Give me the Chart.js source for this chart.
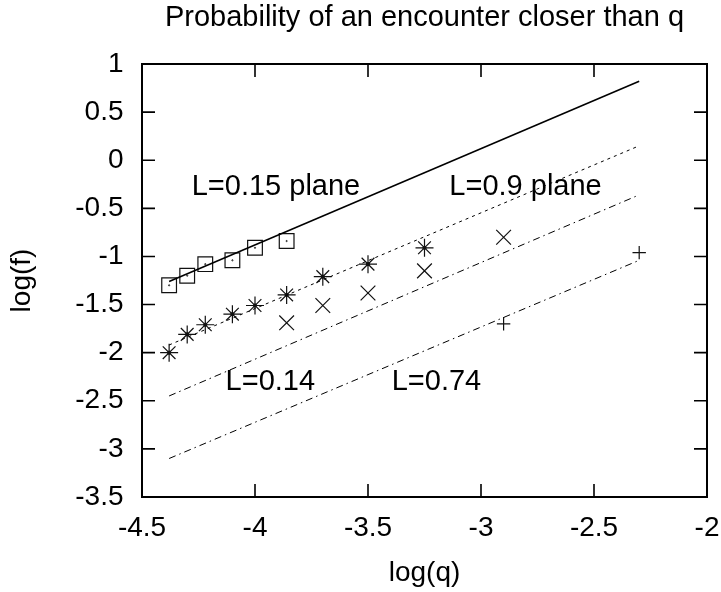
<!DOCTYPE html>
<html>
<head>
<meta charset="utf-8">
<script src="https://cdn.jsdelivr.net/npm/chart.js@4.4.0/dist/chart.umd.min.js"></script>
<style>
  body { margin: 0; background: #fff; }
  canvas { display: block; }
</style>
</head>
<body>
<canvas id="chart" width="721" height="592"></canvas>
<script>
// data (log10 values)
const squareX = [-4.38, -4.30, -4.22, -4.10, -4.00, -3.86];
const squareY = [-1.30, -1.20, -1.08, -1.04, -0.91, -0.84];

const starX = [-4.38, -4.30, -4.22, -4.10, -4.00, -3.86, -3.70, -3.50, -3.25];
const starY = [-2.00, -1.81, -1.71, -1.60, -1.51, -1.40, -1.21, -1.08, -0.91];

const crossX = [-3.86, -3.70, -3.50, -3.25, -2.90];
const crossY = [-1.69, -1.51, -1.38, -1.15, -0.80];

const plusX = [-2.90, -2.30];
const plusY = [-1.70, -0.96];

// fitted lines, end points
const fitX = [-4.38, -2.30];
const fit015Y = [-1.26, 0.82];
const fit09Y = [-1.92, 0.15];
const fit014Y = [-2.45, -0.36];
const fit074Y = [-3.10, -1.04];

const labelText = ['L=0.15 plane', 'L=0.9 plane', 'L=0.14', 'L=0.74'];
const labelX = [-4.28, -3.14, -4.13, -3.395];
const labelY = [-0.28, -0.28, -2.30, -2.30];

const xTicks = [-4.5, -4, -3.5, -3, -2.5, -2];
const yTicks = [-3.5, -3, -2.5, -2, -1.5, -1, -0.5, 0, 0.5, 1];

const titleText = 'Probability of an encounter closer than q';
const FONT = "'Liberation Sans', Arial, Helvetica, sans-serif";

function pts(xs, ys) {
    return xs.map((x, i) => ({x: x, y: ys[i]}));
}

function lineSet(ys, dash, width) {
    return {
        data: pts(fitX, ys),
        showLine: true,
        borderColor: '#000',
        borderWidth: width,
        borderDash: dash,
        pointRadius: 0,
        fill: false
    };
}

function pointSet(xs, ys, style, r, width) {
    return {
        data: pts(xs, ys),
        showLine: false,
        pointStyle: style,
        pointRadius: r,
        pointBorderColor: '#111',
        pointBackgroundColor: 'rgba(0,0,0,0)',
        pointBorderWidth: width
    };
}

const frame = {
    id: 'frame',
    afterDraw(chart) {
        const ctx = chart.ctx;
        const a = chart.chartArea;
        const xs = chart.scales.x, ys = chart.scales.y;
        ctx.save();
        ctx.strokeStyle = '#000';
        ctx.lineWidth = 1.6;
        ctx.beginPath();
        xTicks.forEach(v => {
            const px = xs.getPixelForValue(v);
            ctx.moveTo(px, a.bottom); ctx.lineTo(px, a.bottom - 13);
            ctx.moveTo(px, a.top); ctx.lineTo(px, a.top + 13);
        });
        yTicks.forEach(v => {
            const py = ys.getPixelForValue(v);
            ctx.moveTo(a.left, py); ctx.lineTo(a.left + 13, py);
            ctx.moveTo(a.right, py); ctx.lineTo(a.right - 13, py);
        });
        ctx.stroke();
        ctx.lineWidth = 2;
        ctx.strokeRect(a.left, a.top, a.right - a.left, a.bottom - a.top);

        ctx.fillStyle = '#000';
        ctx.textBaseline = 'middle';
        ctx.textAlign = 'center';
        ctx.font = '29px ' + FONT;
        ctx.fillText(titleText, (a.left + a.right) / 2, 18);

        ctx.textAlign = 'left';
        labelText.forEach((t, i) => {
            ctx.fillText(t, xs.getPixelForValue(labelX[i]), ys.getPixelForValue(labelY[i]));
        });
        ctx.restore();
    }
};

const ctx = document.getElementById('chart').getContext('2d');
new Chart(ctx, {
    type: 'scatter',
    data: {
        datasets: [
            lineSet(fit015Y, [], 1.6),
            lineSet(fit09Y, [3, 4], 1),
            lineSet(fit014Y, [7, 4, 1.5, 4], 1),
            lineSet(fit074Y, [7, 4, 1.5, 4], 1),
            pointSet(squareX, squareY, 'rect', 10.4, 1.2),
            pointSet(squareX, squareY, 'circle', 0.6, 1),
            pointSet(starX, starY, 'star', 9, 1.2),
            pointSet(starX, starY, 'circle', 1.6, 1),
            pointSet(crossX, crossY, 'crossRot', 10.4, 1.2),
            pointSet(plusX, plusY, 'cross', 6.7, 1.2)
        ]
    },
    options: {
        responsive: false,
        animation: false,
        layout: { padding: { top: 64, right: 14, left: 0, bottom: 0 } },
        plugins: {
            legend: { display: false },
            tooltip: { enabled: false }
        },
        scales: {
            x: {
                type: 'linear',
                min: -4.5,
                max: -2,
                afterBuildTicks: s => { s.ticks = xTicks.map(v => ({value: v})); },
                afterFit: s => { s.height = 95; s.paddingLeft = 0; s.paddingRight = 0; },
                grid: { display: false, drawTicks: false },
                border: { display: false },
                ticks: {
                    padding: 14.5,
                    color: '#000',
                    font: { family: FONT, size: 28 },
                    maxRotation: 0,
                    callback: v => String(v)
                },
                title: {
                    display: true,
                    text: 'log(q)',
                    color: '#000',
                    font: { family: FONT, size: 28 },
                    padding: { top: 0, bottom: 2 }
                }
            },
            y: {
                type: 'linear',
                min: -3.5,
                max: 1,
                afterBuildTicks: s => { s.ticks = yTicks.map(v => ({value: v})); },
                afterFit: s => { s.width = 142; s.paddingTop = 0; s.paddingBottom = 0; },
                grid: { display: false, drawTicks: false },
                border: { display: false },
                ticks: {
                    padding: 18.5,
                    color: '#000',
                    font: { family: FONT, size: 28 },
                    callback: v => String(v)
                },
                title: {
                    display: true,
                    text: 'log(f)',
                    color: '#000',
                    font: { family: FONT, size: 28 },
                    padding: { top: 5, bottom: 0 }
                }
            }
        }
    },
    plugins: [frame]
});
</script>
</body>
</html>
